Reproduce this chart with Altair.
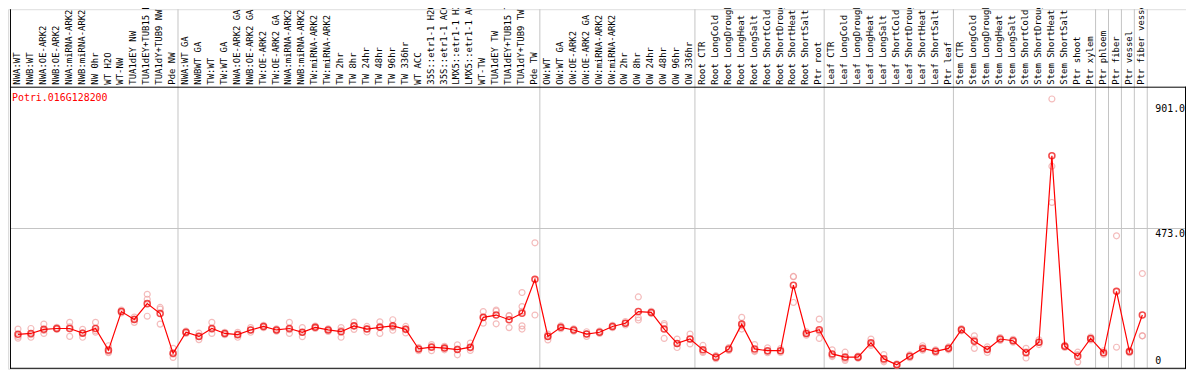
import altair as alt
import pandas as pd

gene = "Potri.016G128200"

samples = [
    "NWA:WT", "NWB:WT", "NWA:OE-ARK2", "NWB:OE-ARK2", "NWA:miRNA-ARK2", "NWB:miRNA-ARK2",
    "NW 0hr", "WT H2O", "WT-NW", "TUA1dEY NW", "TUA1dEY+TUB15 NW", "TUA1dY+TUB9 NW", "Pde NW",
    "NWA:WT GA", "NWBWT GA", "TW:WT", "TW:WT GA", "NWA:OE-ARK2 GA", "NWB:OE-ARK2 GA",
    "TW:OE-ARK2", "TW:OE-ARK2 GA", "NWA:miRNA-ARK2", "NWB:miRNA-ARK2", "TW:miRNA-ARK2",
    "TW:miRNA-ARK2", "TW 2hr", "TW 8hr", "TW 24hr", "TW 48hr", "TW 96hr", "TW 336hr",
    "WT ACC", "35S::etr1-1 H2O", "35S::etr1-1 ACC", "LMX5::etr1-1 H2O", "LMX5::etr1-1 ACC",
    "WT-TW", "TUA1dEY TW", "TUA1dEY+TUB15 TW", "TUA1dY+TUB9 TW", "Pde TW",
    "OW:WT", "OW:WT GA", "OW:OE-ARK2", "OW:OE-ARK2 GA", "OW:miRNA-ARK2", "OW:miRNA-ARK2",
    "OW 2hr", "OW 8hr", "OW 24hr", "OW 48hr", "OW 96hr", "OW 336hr",
    "Root CTR", "Root LongCold", "Root LongDrought", "Root LongHeat", "Root LongSalt",
    "Root ShortCold", "Root ShortDrought", "Root ShortHeat", "Root ShortSalt", "Ptr root",
    "Leaf CTR", "Leaf LongCold", "Leaf LongDrought", "Leaf LongHeat", "Leaf LongSalt",
    "Leaf ShortCold", "Leaf ShortDrought", "Leaf ShortHeat", "Leaf ShortSalt", "Ptr leaf",
    "Stem CTR", "Stem LongCold", "Stem LongDrought", "Stem LongHeat", "Stem LongSalt",
    "Stem ShortCold", "Stem ShortDrought", "Stem ShortHeat", "Stem ShortSalt", "Ptr shoot",
    "Ptr xylem", "Ptr phloem", "Ptr fiber", "Ptr vessel", "Ptr fiber vessel",
]

mean_vals = [
    111, 114, 128, 131, 131, 115, 131, 57, 189, 162, 216, 182, 46,
    118, 104, 131, 114, 110, 126, 138, 126, 131, 118, 135, 126, 120, 140, 129, 135, 140,
    128, 61, 67, 64, 59, 67, 169, 177, 161, 183, 299,
    104, 135, 126, 112, 118, 138, 149, 189, 186, 129, 80, 95,
    58, 33, 61, 146, 61, 55, 55, 279, 114, 127,
    44, 33, 33, 82, 27, 7, 36, 63, 53, 63,
    127, 87, 59, 95, 89, 48, 84, 722, 70, 36,
    97, 48, 258, 52, 177,
]

rep_vals = [
    [129, 104, 98], [131, 110, 101], [146, 124, 114], [135, 130, 128], [152, 137, 104],
    [128, 116, 101], [152, 123, 118], [72, 51, 48], [194, 189, 184], [170, 163, 152],
    [248, 231, 173], [203, 197, 146], [63, 43, 32],
    [122, 118, 114], [115, 104, 93], [152, 128, 114], [118, 114, 110], [118, 111, 101],
    [134, 126, 118], [142, 138, 134], [130, 126, 122], [152, 127, 114], [134, 118, 103],
    [139, 135, 131], [130, 126, 121], [134, 125, 101], [153, 140, 128], [138, 130, 119],
    [154, 138, 114], [161, 135, 125], [138, 130, 116], [66, 61, 55], [76, 70, 55],
    [70, 64, 58], [75, 61, 41], [81, 64, 56], [189, 169, 149], [190, 194, 147],
    [174, 175, 134], [254, 206, 190, 140, 129], [424, 177],
    [112, 104, 92], [140, 135, 130], [130, 126, 122], [120, 112, 104], [122, 118, 114],
    [142, 138, 134], [155, 149, 143], [239, 168, 160], [190, 186, 182], [148, 142, 97],
    [95, 79, 66], [112, 95, 78],
    [73, 52, 49], [38, 33, 28], [66, 61, 56], [169, 140, 129], [76, 55, 52],
    [65, 52, 48], [62, 54, 49], [308, 309, 220], [120, 114, 108], [163, 121, 97],
    [58, 39, 35], [50, 27, 22], [37, 33, 29], [95, 78, 73], [42, 22, 17],
    [10, 7, 4], [41, 36, 31], [72, 60, 57], [58, 53, 48], [68, 63, 58],
    [131, 127, 123], [106, 92, 63], [68, 60, 49], [100, 95, 90], [94, 89, 84],
    [63, 51, 30], [92, 84, 76], [916, 686, 562], [74, 70, 66], [50, 42, 16],
    [102, 97, 92], [55, 47, 42], [448, 67], [56, 52, 48], [319, 106, 106],
]

separators = [13, 41, 53, 63, 73, 84, 85, 86, 87, 88]
grid_vals = [473]
ytick_vals = [473, 901]
ytick_labels = ["473.0", "901.0"]
zero_label = ["0"]

n = len(samples)
pos = [i + 0.62 for i in range(n)]
mean_df = pd.DataFrame({"sample": samples, "pos": pos, "value": mean_vals})
rep_df = pd.DataFrame(
    [{"pos": p, "value": v} for p, reps in zip(pos, rep_vals) for v in reps]
)
label_df = pd.DataFrame({"sample": samples, "pos": [i + 0.55 for i in range(n)]})
sep_df = pd.DataFrame({"pos": separators})
grid_df = pd.DataFrame({"value": grid_vals})
ytick_df = pd.DataFrame({"value": ytick_vals, "label": ytick_labels})
zero_df = pd.DataFrame({"value": [0], "label": zero_label})
one = pd.DataFrame({"a": [0]})
title_df = pd.DataFrame({"t": [gene]})

xs = alt.Scale(domain=[0, 88], range=[2, 1147])
ys = alt.Scale(domain=[0, 958], range=[360, 78])
X = lambda f: alt.X(f, scale=xs, axis=None)
Y = lambda f: alt.Y(f, scale=ys, axis=None)

GRID = "#c4c4c4"
FONT = "DejaVu Sans Mono"

seps = alt.Chart(sep_df).mark_rule(color=GRID, strokeWidth=1).encode(
    x=X("pos:Q"), y=alt.value(0), y2=alt.value(361)
)
grid = alt.Chart(grid_df).mark_rule(color=GRID, strokeWidth=1).encode(
    y=Y("value:Q"), x=alt.value(2), x2=alt.value(1186)
)
frame_top = alt.Chart(one).mark_rule(color="black", strokeWidth=1).encode(
    x=alt.value(2), x2=alt.value(1186), y=alt.value(78.5)
)
frame_bottom = alt.Chart(one).mark_rule(color="black", strokeWidth=1).encode(
    x=alt.value(2), x2=alt.value(1186), y=alt.value(361.5)
)
frame_left = alt.Chart(one).mark_rule(color="black", strokeWidth=1).encode(
    x=alt.value(2.5), y=alt.value(0), y2=alt.value(362)
)
frame_right = alt.Chart(one).mark_rule(color="black", strokeWidth=1).encode(
    x=alt.value(1185.5), y=alt.value(78), y2=alt.value(362)
)

reps = alt.Chart(rep_df).mark_point(
    shape="circle", filled=False, color="#f0a0a0", size=36, strokeWidth=1.2
).encode(x=X("pos:Q"), y=Y("value:Q"))

line = alt.Chart(mean_df).mark_line(color="#ff0000", strokeWidth=1.2).encode(
    x=X("pos:Q"), y=Y("value:Q")
)
means = alt.Chart(mean_df).mark_point(
    shape="circle", filled=False, color="#ee0000", size=36, strokeWidth=1.6
).encode(x=X("pos:Q"), y=Y("value:Q"))

labels = alt.Chart(label_df).mark_text(
    angle=270, align="left", baseline="middle", font=FONT, fontSize=9, color="black"
).encode(x=X("pos:Q"), y=alt.value(76), text="sample:N")

yticks = alt.Chart(ytick_df).mark_text(
    align="left", baseline="top", font=FONT, fontSize=10, color="black", dy=1
).encode(x=alt.value(1155), y=Y("value:Q"), text="label:N")

yzero = alt.Chart(zero_df).mark_text(
    align="left", baseline="bottom", font=FONT, fontSize=10, color="black", dy=-1
).encode(x=alt.value(1155), y=Y("value:Q"), text="label:N")

title = alt.Chart(title_df).mark_text(
    align="left", baseline="top", font=FONT, fontSize=10, color="#ff0000"
).encode(x=alt.value(4), y=alt.value(84), text="t:N")

chart = alt.layer(
    seps, grid, frame_top, frame_bottom, frame_left, frame_right,
    reps, line, means, labels, yticks, yzero, title
).properties(
    width=1186, height=362, padding=0,
    autosize=alt.AutoSizeParams(type="none"),
).configure_view(strokeWidth=0).configure(font=FONT)

chart.save("out.html", embed_options={"renderer": "svg", "actions": False})
